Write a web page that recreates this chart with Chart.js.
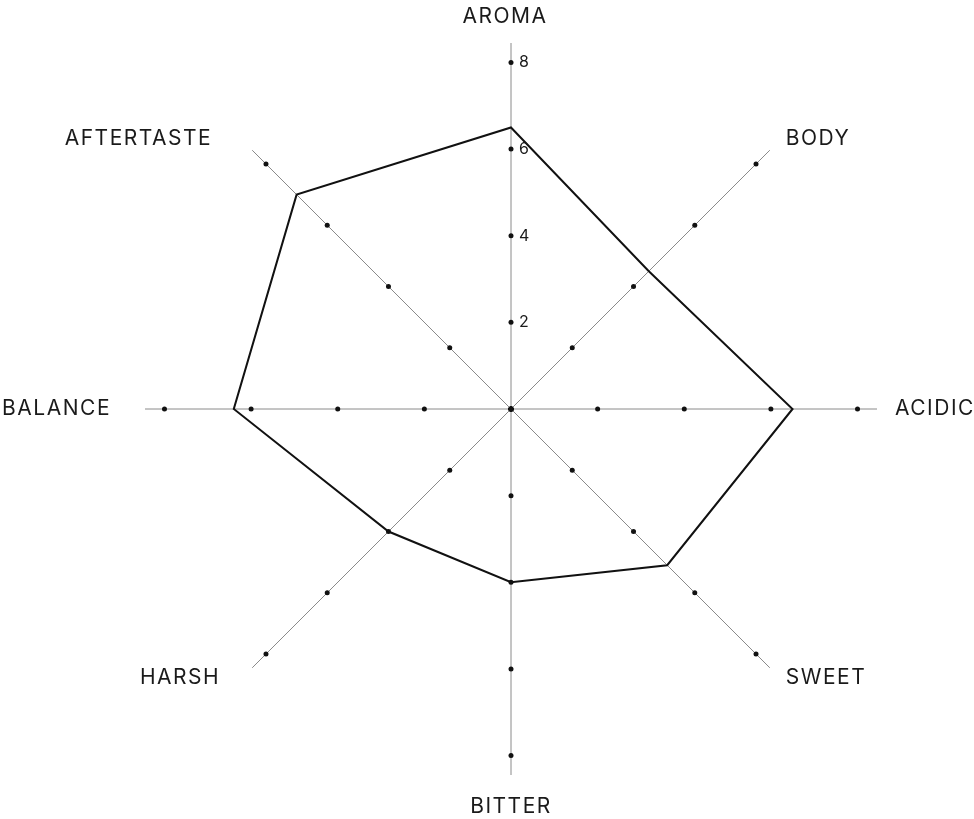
<!DOCTYPE html>
<html lang="en">
<head>
  <meta charset="UTF-8">
  <title>Coffee Tasting Radar</title>
  <script src="https://cdn.jsdelivr.net/npm/chart.js"></script>
  <style>
    html, body { margin: 0; padding: 0; background: #fff; }
    .wrap { width: 974px; height: 819px; }
  </style>
</head>
<body>
  <div class="wrap">
    <canvas id="radar"></canvas>
  </div>

  <script>
    // Data
    const categories = ['AROMA', 'BODY', 'ACIDIC', 'SWEET', 'BITTER', 'HARSH', 'BALANCE', 'AFTERTASTE'];
    const scores = [6.5, 4.5, 6.5, 5.1, 4, 4, 6.4, 7];
    const tickValues = [2, 4, 6, 8];
    const dotLevels = [0, 2, 4, 6, 8];

    // where each category name sits relative to the end of its spoke: [dx, dy, align]
    const labelPlacement = [
      [-6, -26, 'center'],
      [16, -12, 'left'],
      [18, 0, 'left'],
      [16, 10, 'left'],
      [0, 32, 'center'],
      [-32, 10, 'right'],
      [-34, 0, 'right'],
      [-40, -12, 'right']
    ];

    // dots along every spoke, one dataset per level
    const dotSets = dotLevels.map(level => ({
      label: 'level ' + level,
      data: categories.map(() => level),
      showLine: false,
      fill: false,
      borderWidth: 0,
      pointRadius: 2.5,
      pointBackgroundColor: '#111',
      pointBorderWidth: 0
    }));

    // category names + tick numbers
    const labelPlugin = {
      id: 'radarText',
      afterDatasetsDraw(chart) {
        const scale = chart.scales.r;
        const ctx = chart.ctx;
        ctx.save();
        ctx.fillStyle = '#1a1a1a';
        ctx.textBaseline = 'middle';

        ctx.font = '21px Inter, "Open Sans", sans-serif';
        ctx.letterSpacing = '1.5px';
        categories.forEach((name, i) => {
          const p = scale.getPointPosition(i, scale.drawingArea);
          const [dx, dy, align] = labelPlacement[i];
          ctx.textAlign = align;
          ctx.fillText(name, p.x + dx, p.y + dy);
        });

        ctx.letterSpacing = '0px';
        ctx.font = '16px Inter, "Open Sans", sans-serif';
        ctx.textAlign = 'left';
        tickValues.forEach(v => {
          const p = scale.getPointPositionForValue(0, v);
          ctx.fillText(String(v), p.x + 8, p.y);
        });
        ctx.restore();
      }
    };

    new Chart(document.getElementById('radar'), {
      type: 'radar',
      data: {
        labels: categories,
        datasets: [{
          label: 'Score',
          data: scores,
          fill: false,
          borderColor: '#111',
          borderWidth: 2,
          pointRadius: 0,
          tension: 0
        }, ...dotSets]
      },
      options: {
        responsive: true,
        maintainAspectRatio: false,
        animation: false,
        layout: { padding: { left: 145, right: 97, top: 43, bottom: 44 } },
        plugins: {
          legend: { display: false },
          tooltip: { enabled: false }
        },
        scales: {
          r: {
            min: 0,
            max: 8.45,
            ticks: { display: false, stepSize: 2 },
            grid: { display: false },
            angleLines: { display: true, color: '#8a8a8a', lineWidth: 1 },
            pointLabels: { display: false }
          }
        }
      },
      plugins: [labelPlugin]
    });
  </script>
</body>
</html>
